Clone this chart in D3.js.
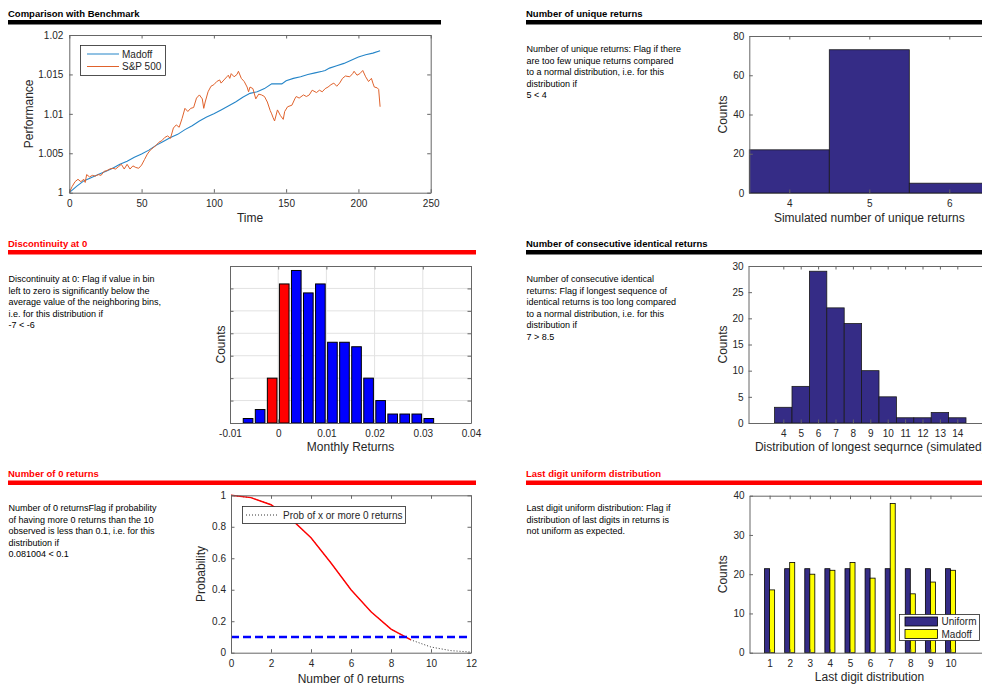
<!DOCTYPE html>
<html><head><meta charset="utf-8">
<script src="https://cdn.jsdelivr.net/npm/d3@7"></script>
<style>
html,body{margin:0;padding:0;background:#fff;}
svg{display:block;font-family:"Liberation Sans",Arial,Helvetica,sans-serif;}
.tick text{font-size:10px;fill:#262626;}
.ax path.domain{stroke:#666;stroke-width:1;}
.ax .tick line{stroke:#666;stroke-width:1;}
.lbl{font-size:12px;fill:#262626;}
.desc{font-size:9px;fill:#000;}
.ttl{font-size:9.5px;font-weight:bold;}
</style></head><body><svg id="c" width="982" height="685"></svg>
<script>
// ---------------- DATA ----------------
// Panel 1: Comparison with Benchmark
const madoffMonths = [0,5,10,15,20,25,30,35,40,45,50,55,60,65,70,75,80,85,90,95,100,105,110,115,120,125,130,135,140,145,147,150,155,160,165,170,175,177,180,185,190,195,200,205,210,215];
const madoffPerf   = [1.0000,1.0008,1.0015,1.0019,1.0023,1.0027,1.0031,1.0036,1.0040,1.0045,1.0049,1.0054,1.0060,1.0065,1.0070,1.0074,1.0080,1.0085,1.0091,1.0096,1.0100,1.0105,1.0110,1.0115,1.0121,1.0126,1.0128,1.0132,1.0138,1.0138,1.0138,1.0142,1.0145,1.0147,1.0150,1.0152,1.0154,1.0155,1.0158,1.0161,1.0164,1.0168,1.0172,1.0175,1.0177,1.0180];
const spMonths = [0,2,4,6,8,10,11,12,14,16,18,20,22,24,26,28,30,32,34,36,38,40,42,44,46,48,50,52,54,56,58,60,62,64,66,68,70,72,74,76,78,80,82,84,86,88,90,92,93,94,96,98,100,102,104,105,107,109,110,111,112,114,116,117,119,121,123,124,125,127,129,131,133,135,137,139,140,141,142,144,146,148,149,151,154,156,157,159,162,164,166,168,171,173,175,177,179,181,183,185,187,189,191,194,196,197,199,201,203,205,207,209,210,211,213,214,215];
const spPerf = [1.0000,1.0008,1.0014,1.0017,1.0014,1.0017,1.0013,1.0023,1.0020,1.0022,1.0021,1.0023,1.0022,1.0027,1.0028,1.0030,1.0031,1.0030,1.0033,1.0036,1.0030,1.0036,1.0030,1.0034,1.0032,1.0031,1.0035,1.0042,1.0049,1.0054,1.0057,1.0060,1.0064,1.0066,1.0070,1.0072,1.0069,1.0082,1.0086,1.0083,1.0094,1.0107,1.0103,1.0107,1.0108,1.0120,1.0124,1.0119,1.0107,1.0115,1.0128,1.0135,1.0137,1.0141,1.0143,1.0139,1.0143,1.0147,1.0149,1.0145,1.0151,1.0147,1.0150,1.0154,1.0145,1.0141,1.0134,1.0128,1.0134,1.0132,1.0119,1.0125,1.0124,1.0122,1.0115,1.0104,1.0100,1.0095,1.0091,1.0105,1.0098,1.0093,1.0103,1.0109,1.0111,1.0119,1.0122,1.0120,1.0124,1.0122,1.0124,1.0130,1.0127,1.0130,1.0128,1.0132,1.0134,1.0137,1.0139,1.0135,1.0139,1.0145,1.0148,1.0147,1.0151,1.0154,1.0149,1.0151,1.0155,1.0147,1.0141,1.0145,1.0139,1.0134,1.0133,1.0131,1.0109];
const perfXTicks = [0,50,100,150,200,250];
const perfYTicks = [1,1.005,1.01,1.015,1.02];

// Panel 2: Number of unique returns
const uniqueValues = [4,5,6];
const uniqueCounts = [22,73,5];
const uniqueYTicks = [0,20,40,60,80];

// Panel 3: Discontinuity at 0
const returnBinCenters = [-0.00625,-0.00375,-0.00125,0.00125,0.00375,0.00625,0.00875,0.01125,0.01375,0.01625,0.01875,0.02125,0.02375,0.02625,0.02875,0.03125];
const returnBinCounts  = [1,3,10,31,34,29,31,18,18,17,10,5,2,2,2,1];
const flaggedBins = [-0.00125,0.00125];
const returnBinWidth = 0.0025;
const returnXTicks = [-0.01,0,0.01,0.02,0.03,0.04];
const returnYTicks = [0,5,10,15,20,25,30,35];

// Panel 4: Number of consecutive identical returns
const runLengths = [4,5,6,7,8,9,10,11,12,13,14];
const runCounts  = [3,7,29,22,19,10,5,1,1,2,1];
const runYTicks = [0,5,10,15,20,25,30];

// Panel 5: Number of 0 returns
const zeroCounts = [0,1,2,3,4,5,6,7,8,9,10,11,12];
const zeroProb   = [1.0,0.985,0.94,0.85,0.73,0.57,0.40,0.26,0.15,0.081,0.036,0.013,0.004];
const observedZeros = 9;
const probThreshold = 0.1;
const zeroXTicks = [0,2,4,6,8,10,12];
const probYTicks = [0,0.2,0.4,0.6,0.8,1];

// Panel 6: Last digit uniform distribution
const digits = [1,2,3,4,5,6,7,8,9,10];
const uniformCounts = [21.4,21.4,21.4,21.4,21.4,21.4,21.4,21.4,21.4,21.4];
const madoffDigitCounts = [16,23,20,21,23,19,38,15,18,21];
const digitYTicks = [0,10,20,30,40];

// Section headers & descriptions
const sections = [
  {title:"Comparison with Benchmark", color:"#000", x:8, x2:441, ty:17, by:20, lines:[]},
  {title:"Number of unique returns", color:"#000", x:526, x2:982, ty:17, by:20,
   lines:["Number of unique returns: Flag if there","are too few unique returns compared","to a normal distribution, i.e. for this","distribution if","5 < 4"], ly:52},
  {title:"Discontinuity at 0", color:"#ff0000", x:8, x2:476, ty:246.5, by:250,
   lines:["Discontinuity at 0: Flag if value in bin","left to zero is significantly below the","average value of the neighboring bins,","i.e. for this distribution if","-7 < -6"], ly:282},
  {title:"Number of consecutive identical returns", color:"#000", x:526, x2:982, ty:246.5, by:250,
   lines:["Number of consecutive identical","returns: Flag if longest sequence of","identical returns is too long compared","to a normal distribution, i.e. for this","distribution if","7 > 8.5"], ly:282},
  {title:"Number of 0 returns", color:"#ff0000", x:8, x2:476, ty:477, by:480.5,
   lines:["Number of 0 returnsFlag if probability","of having more 0 returns than the 10","observed is less than 0.1, i.e. for this","distribution if","0.081004 < 0.1"], ly:511},
  {title:"Last digit uniform distribution", color:"#ff0000", x:526, x2:982, ty:477, by:480.5,
   lines:["Last digit uniform distribution: Flag if","distribution of last digits in returns is","not uniform as expected."], ly:511}
];

// ---------------- DRAW ----------------
const svg = d3.select("#c");
const TL = 3.5;

sections.forEach(s => {
  svg.append("text").attr("class","ttl").attr("x", s.x).attr("y", s.ty).attr("fill", s.color).text(s.title);
  svg.append("rect").attr("x", s.x).attr("y", s.by).attr("width", s.x2 - s.x).attr("height", 4.5).attr("fill", s.color);
  s.lines.forEach((l,i) => {
    svg.append("text").attr("class","desc").attr("x", s.x + 0.5).attr("y", s.ly + i*11.6).text(l);
  });
});

function frame(g, x, y, o) {
  const [xa, xb] = x.range(); const [yb, ya] = y.range();
  const fx = o.xLabels === false ? "" : (d => String(d));
  const fy = o.yLabels === false ? "" : (d => String(d));
  g.append("g").attr("class","ax").attr("transform",`translate(0,${yb})`)
    .call(d3.axisBottom(x).tickValues(o.xTicks).tickSize(-TL).tickSizeOuter(0).tickPadding(7).tickFormat(fx));
  g.append("g").attr("class","ax").attr("transform",`translate(0,${ya})`)
    .call(d3.axisTop(x).tickValues(o.xTicks).tickSize(-TL).tickSizeOuter(0).tickFormat(""));
  g.append("g").attr("class","ax").attr("transform",`translate(${xa},0)`)
    .call(d3.axisLeft(y).tickValues(o.yTicks).tickSize(-TL).tickSizeOuter(0).tickPadding(o.yPad || 5).tickFormat(fy));
  g.append("g").attr("class","ax").attr("transform",`translate(${xb},0)`)
    .call(d3.axisRight(y).tickValues(o.yTicks).tickSize(-TL).tickSizeOuter(0).tickFormat(""));
  if (o.xTitle) g.append("text").attr("class","lbl").attr("text-anchor","middle")
    .attr("x", o.xTitleX !== undefined ? o.xTitleX : (xa+xb)/2).attr("y", o.xTitleY).text(o.xTitle);
  if (o.yTitle) g.append("text").attr("class","lbl").attr("text-anchor","middle")
    .attr("transform",`translate(${o.yTitleX},${(ya+yb)/2}) rotate(-90)`).text(o.yTitle);
}

// Panel 1
{
  const g = svg.append("g");
  const x = d3.scaleLinear().domain([0,250]).range([69.3,430.7]);
  const y = d3.scaleLinear().domain([1,1.02]).range([192.7,35]);
  const line = d3.line().x(d=>x(d[0])).y(d=>y(d[1]));
  g.append("path").datum(d3.zip(madoffMonths, madoffPerf)).attr("d", line)
    .attr("fill","none").attr("stroke","#2585c8").attr("stroke-width",1.1);
  g.append("path").datum(d3.zip(spMonths, spPerf)).attr("d", line)
    .attr("fill","none").attr("stroke","#e0622c").attr("stroke-width",1);
  frame(g, x, y, {xTicks:perfXTicks, yTicks:perfYTicks, yPad:6, xTitle:"Time", xTitleY:222, yTitle:"Performance", yTitleX:32.5});
  const lg = g.append("g");
  lg.append("rect").attr("x",80.5).attr("y",45.5).attr("width",85).attr("height",30).attr("fill","#fff").attr("stroke","#262626").attr("stroke-width",0.8);
  [["Madoff","#2585c8",54],["S&P 500","#e0622c",66.5]].forEach(([t,c,yy]) => {
    lg.append("line").attr("x1",87).attr("x2",119).attr("y1",yy).attr("y2",yy).attr("stroke",c).attr("stroke-width",1);
    lg.append("text").attr("x",122).attr("y",yy+3.5).attr("font-size",10).attr("fill","#262626").text(t);
  });
}

// Panel 2
{
  const g = svg.append("g");
  const x = d3.scaleLinear().domain([3.5,6.5]).range([749.3,989.3]);
  const y = d3.scaleLinear().domain([0,80]).range([193,36]);
  g.selectAll("rect.b").data(d3.zip(uniqueValues, uniqueCounts)).join("rect").attr("class","b")
    .attr("x", d=>x(d[0]-0.5)).attr("width", d=>x(d[0]+0.5)-x(d[0]-0.5))
    .attr("y", d=>y(d[1])).attr("height", d=>y(0)-y(d[1]))
    .attr("fill","#352c86").attr("stroke","#1a1a1a").attr("stroke-width",0.8);
  frame(g, x, y, {xTicks:uniqueValues, yTicks:uniqueYTicks, xTitle:"Simulated number of unique returns", xTitleX:x(5), xTitleY:221.5, yTitle:"Counts", yTitleX:726.5});
}

// Panel 3
{
  const g = svg.append("g");
  const x = d3.scaleLinear().domain([-0.01,0.04]).range([230,471]);
  const y = d3.scaleLinear().domain([0,35]).range([423,266]);
  const grid = g.append("g").attr("stroke","#e2e2e2").attr("stroke-width",1);
  returnXTicks.slice(1,-1).forEach(t => grid.append("line").attr("x1",x(t)).attr("x2",x(t)).attr("y1",y(0)).attr("y2",y(35)));
  returnYTicks.slice(1,-1).forEach(t => grid.append("line").attr("x1",x(-0.01)).attr("x2",x(0.04)).attr("y1",y(t)).attr("y2",y(t)));
  const bw = (x(returnBinWidth) - x(0)) * 0.8;
  g.selectAll("rect.b").data(d3.zip(returnBinCenters, returnBinCounts)).join("rect").attr("class","b")
    .attr("x", d=>x(d[0]) - bw/2).attr("width", bw)
    .attr("y", d=>y(d[1])).attr("height", d=>y(0)-y(d[1]))
    .attr("fill", d => flaggedBins.includes(d[0]) ? "#ff0000" : "#0000ff")
    .attr("stroke","#000").attr("stroke-width",1);
  frame(g, x, y, {xTicks:returnXTicks, yTicks:returnYTicks, yLabels:false, xTitle:"Monthly Returns", xTitleY:451, yTitle:"Counts", yTitleX:225});
}

// Panel 4
{
  const g = svg.append("g");
  const x = d3.scaleLinear().domain([2,16]).range([748.5,992.1]);
  const y = d3.scaleLinear().domain([0,30]).range([423,266]);
  g.selectAll("rect.b").data(d3.zip(runLengths, runCounts)).join("rect").attr("class","b")
    .attr("x", d=>x(d[0]-0.5)).attr("width", d=>x(d[0]+0.5)-x(d[0]-0.5))
    .attr("y", d=>y(d[1])).attr("height", d=>y(0)-y(d[1]))
    .attr("fill","#352c86").attr("stroke","#1a1a1a").attr("stroke-width",0.8);
  frame(g, x, y, {xTicks:runLengths, yTicks:runYTicks, xTitle:"Distribution of longest sequrnce (simulated)", xTitleX:x(9), xTitleY:451, yTitle:"Counts", yTitleX:726.5});
}

// Panel 5
{
  const g = svg.append("g");
  const x = d3.scaleLinear().domain([0,12]).range([231,471]);
  const y = d3.scaleLinear().domain([0,1]).range([652.7,495.3]);
  const line = d3.line().x(d=>x(d[0])).y(d=>y(d[1]));
  const pts = d3.zip(zeroCounts, zeroProb);
  g.append("path").datum(pts).attr("d", line).attr("fill","none").attr("stroke","#000").attr("stroke-width",0.8).attr("stroke-dasharray","1,2");
  g.append("path").datum(pts.filter(d => d[0] <= observedZeros)).attr("d", line).attr("fill","none").attr("stroke","#ff0000").attr("stroke-width",1.4);
  g.append("line").attr("x1",x(0)).attr("x2",x(12)).attr("y1",y(probThreshold)).attr("y2",y(probThreshold))
    .attr("stroke","#0000ff").attr("stroke-width",2.5).attr("stroke-dasharray","8,4");
  frame(g, x, y, {xTicks:zeroXTicks, yTicks:probYTicks, xTitle:"Number of 0 returns", xTitleY:682.5, yTitle:"Probability", yTitleX:205});
  const lg = g.append("g");
  lg.append("rect").attr("x",242.5).attr("y",506.5).attr("width",163).attr("height",17).attr("fill","#fff").attr("stroke","#262626").attr("stroke-width",0.8);
  lg.append("line").attr("x1",246).attr("x2",277).attr("y1",515).attr("y2",515).attr("stroke","#000").attr("stroke-width",0.8).attr("stroke-dasharray","1,2");
  lg.append("text").attr("x",283).attr("y",518.5).attr("font-size",10).attr("fill","#262626").text("Prob of x or more 0 returns");
}

// Panel 6
{
  const g = svg.append("g");
  const x = d3.scaleLinear().domain([0,12]).range([749.5,990.7]);
  const y = d3.scaleLinear().domain([0,40]).range([652.7,495.7]);
  const data = digits.map((d,i) => ({d, u:uniformCounts[i], m:madoffDigitCounts[i]}));
  g.selectAll("rect.u").data(data).join("rect").attr("class","u")
    .attr("x", d=>x(d.d-0.25)).attr("width", d=>x(d.d)-x(d.d-0.25))
    .attr("y", d=>y(d.u)).attr("height", d=>y(0)-y(d.u))
    .attr("fill","#352c86").attr("stroke","#000").attr("stroke-width",0.8);
  g.selectAll("rect.m").data(data).join("rect").attr("class","m")
    .attr("x", d=>x(d.d)).attr("width", d=>x(d.d+0.25)-x(d.d))
    .attr("y", d=>y(d.m)).attr("height", d=>y(0)-y(d.m))
    .attr("fill","#ffff00").attr("stroke","#000").attr("stroke-width",0.8);
  frame(g, x, y, {xTicks:digits, yTicks:digitYTicks, xTitle:"Last digit distribution", xTitleX:869.5, xTitleY:681, yTitle:"Counts", yTitleX:726.5});
  const lg = g.append("g");
  lg.append("rect").attr("x",899.5).attr("y",614.5).attr("width",80).attr("height",26).attr("fill","#fff").attr("stroke","#262626").attr("stroke-width",0.8);
  [["Uniform","#352c86",617],["Madoff","#ffff00",629.5]].forEach(([t,c,yy]) => {
    lg.append("rect").attr("x",905).attr("y",yy).attr("width",32.5).attr("height",9).attr("fill",c).attr("stroke","#000").attr("stroke-width",0.8);
    lg.append("text").attr("x",941.5).attr("y",yy+8).attr("font-size",10).attr("fill","#262626").text(t);
  });
}
</script></body></html>
